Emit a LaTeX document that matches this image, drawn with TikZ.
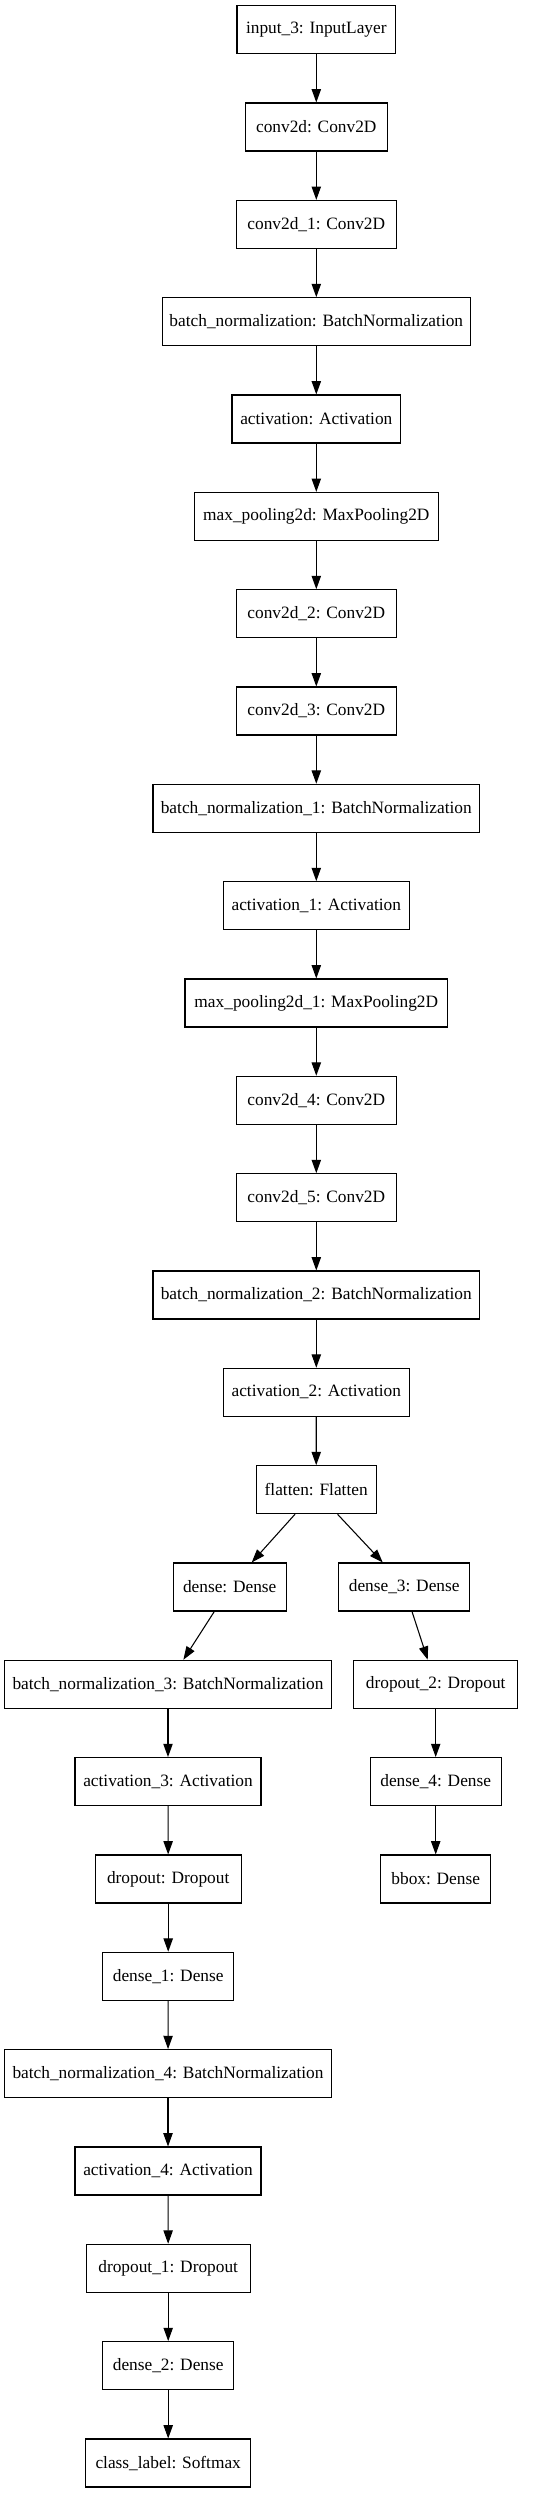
\documentclass[tikz,border=0pt]{standalone}
\usepackage{fontspec}
\setmainfont{Liberation Serif}
\usetikzlibrary{arrows.meta}
\begin{document}
\begin{tikzpicture}[x=0.75pt,y=-0.75pt,
  layer/.style={draw=black, line width=0.8pt, rectangle, inner sep=0pt,
    minimum height=36pt, font=\fontsize{13}{15}\selectfont},
  arr/.style={draw=black, line width=0.8pt, -{Triangle[length=10pt,width=7pt]}}]
\useasboundingbox (0,0) rectangle (555,2493);
% main column
\node[layer, minimum width=119pt]   (n0)  at (316.3, 29.7)   {input\_3: InputLayer};
\node[layer, minimum width=106.5pt] (n1)  at (316.3, 127.0)  {conv2d: Conv2D};
\node[layer, minimum width=120pt]   (n2)  at (316.3, 224.4)  {conv2d\_1: Conv2D};
\node[layer, minimum width=231pt]   (n3)  at (316.3, 321.7)  {batch\_normalization: BatchNormalization};
\node[layer, minimum width=126.5pt] (n4)  at (316.3, 419.0)  {activation: Activation};
\node[layer, minimum width=183pt]   (n5)  at (316.3, 516.4)  {max\_pooling2d: MaxPooling2D};
\node[layer, minimum width=120pt]   (n6)  at (316.3, 613.7)  {conv2d\_2: Conv2D};
\node[layer, minimum width=120pt]   (n7)  at (316.3, 711.0)  {conv2d\_3: Conv2D};
\node[layer, minimum width=245pt]   (n8)  at (316.3, 808.3)  {batch\_normalization\_1: BatchNormalization};
\node[layer, minimum width=139.5pt] (n9)  at (316.3, 905.7)  {activation\_1: Activation};
\node[layer, minimum width=197pt]   (n10) at (316.3, 1003.0) {max\_pooling2d\_1: MaxPooling2D};
\node[layer, minimum width=120pt]   (n11) at (316.3, 1100.3) {conv2d\_4: Conv2D};
\node[layer, minimum width=120pt]   (n12) at (316.3, 1197.7) {conv2d\_5: Conv2D};
\node[layer, minimum width=245pt]   (n13) at (316.3, 1295.0) {batch\_normalization\_2: BatchNormalization};
\node[layer, minimum width=139.5pt] (n14) at (316.3, 1392.3) {activation\_2: Activation};
\node[layer, minimum width=89.8pt]  (n15) at (316.2, 1489.7) {flatten: Flatten};
% left column
\node[layer, minimum width=85pt]    (l0)  at (229.7, 1587.0) {dense: Dense};
\node[layer, minimum width=245.5pt] (l1)  at (168.0, 1684.3) {batch\_normalization\_3: BatchNormalization};
\node[layer, minimum width=139.5pt] (l2)  at (168.0, 1781.6) {activation\_3: Activation};
\node[layer, minimum width=109.3pt] (l3)  at (168.2, 1879.0) {dropout: Dropout};
\node[layer, minimum width=98.3pt]  (l4)  at (168.2, 1976.3) {dense\_1: Dense};
\node[layer, minimum width=245.5pt] (l5)  at (168.0, 2073.6) {batch\_normalization\_4: BatchNormalization};
\node[layer, minimum width=139.5pt] (l6)  at (168.0, 2171.0) {activation\_4: Activation};
\node[layer, minimum width=122.8pt] (l7)  at (168.2, 2268.3) {dropout\_1: Dropout};
\node[layer, minimum width=98.3pt]  (l8)  at (168.2, 2365.6) {dense\_2: Dense};
\node[layer, minimum width=123.8pt] (l9)  at (168.2, 2463.0) {class\_label: Softmax};
% right column
\node[layer, minimum width=98.3pt]  (r0)  at (404.2, 1587.0) {dense\_3: Dense};
\node[layer, minimum width=123pt]   (r1)  at (435.7, 1684.3) {dropout\_2: Dropout};
\node[layer, minimum width=98pt]    (r2)  at (435.7, 1781.6) {dense\_4: Dense};
\node[layer, minimum width=82.5pt]  (r3)  at (435.7, 1879.0) {bbox: Dense};
% edges
\foreach \a/\b in {n0/n1,n1/n2,n2/n3,n3/n4,n4/n5,n5/n6,n6/n7,n7/n8,n8/n9,n9/n10,n10/n11,n11/n12,n12/n13,n13/n14,n14/n15,
  l1/l2,l2/l3,l3/l4,l4/l5,l5/l6,l6/l7,l7/l8,l8/l9,r1/r2,r2/r3}
  \draw[arr] (\a) -- (\b);
\draw[arr] ([xshift=-15.9pt]n15.south) -- ([xshift=16.5pt]l0.north);
\draw[arr] ([xshift=16pt]n15.south) -- ([xshift=-16.1pt]r0.north);
\draw[arr] ([xshift=-11.55pt]l0.south) -- ([xshift=11.5pt]l1.north);
\draw[arr] ([xshift=5.85pt]r0.south) -- ([xshift=-6pt]r1.north);
\end{tikzpicture}
\end{document}
